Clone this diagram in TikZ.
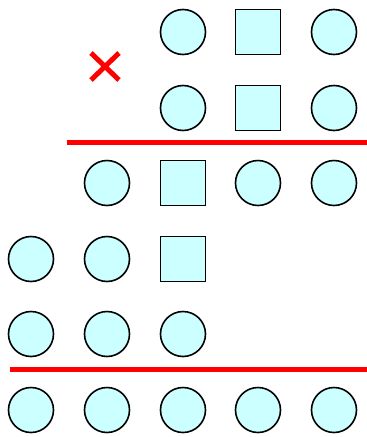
\documentclass[tikz,border=0pt]{standalone}
\definecolor{cellcyan}{RGB}{204,255,255}
\definecolor{markred}{RGB}{255,0,0}
\tikzset{
  ball/.style={circle,draw=black,fill=cellcyan,line width=1.6pt,minimum size=45pt,inner sep=0pt},
  block/.style={rectangle,draw=black,fill=cellcyan,line width=1.6pt,minimum size=45pt,inner sep=0pt},
  bar/.style={markred,line width=5pt},
  crossmark/.style={markred,line width=5pt},
}

\begin{document}
\begin{tikzpicture}[x=1pt,y=-1pt]
  \useasboundingbox (0,0) rectangle (367,437);

  % upper two rows
  \foreach \y/\r in {32/1,108/2}{
    \node[ball] (b\r3) at (183,\y) {};
    \node[block] (q\r4) at (258,\y) {};
    \node[ball] (b\r5) at (334,\y) {};
  }
  \draw[crossmark] (91,53) -- (119,80) (91,80) -- (119,53);
  \draw[bar] (67,142.5) -- (367,142.5);

  % middle rows
  \node[ball] (b32) at (107,183) {};
  \node[block] (q33) at (183,183) {};
  \node[ball] (b34) at (258,183) {};
  \node[ball] (b35) at (334,183) {};

  \node[ball] (b41) at (31,259) {};
  \node[ball] (b42) at (107,259) {};
  \node[block] (q43) at (183,259) {};

  \foreach \x/\c in {31/1,107/2,183/3}
    \node[ball] (b5\c) at (\x,334) {};
  \draw[bar] (10,369.5) -- (367,369.5);

  % bottom row
  \foreach \x/\c in {31/1,107/2,183/3,258/4,334/5}
    \node[ball] (b6\c) at (\x,410) {};
\end{tikzpicture}
\end{document}
